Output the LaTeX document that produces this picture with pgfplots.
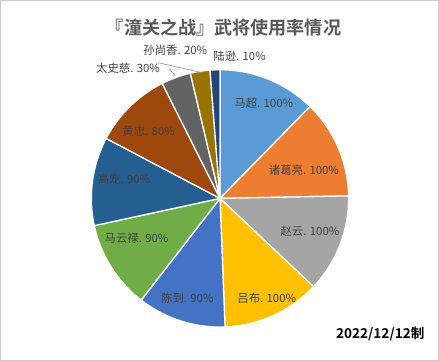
\documentclass[border=0pt]{standalone}
\usepackage{pgfplots}
\pgfplotsset{compat=1.18}
\usepackage{pgfplotstable}
\usepackage{fontspec}
\setmainfont{Noto Sans CJK SC}
\newfontfamily\cjkb{Noto Sans CJK SC Bold}
\definecolor{c1}{HTML}{5B9BD5}
\definecolor{c2}{HTML}{ED7D31}
\definecolor{c3}{HTML}{A5A5A5}
\definecolor{c4}{HTML}{FFC000}
\definecolor{c5}{HTML}{4472C4}
\definecolor{c6}{HTML}{70AD47}
\definecolor{c7}{HTML}{255E91}
\definecolor{c8}{HTML}{9E480E}
\definecolor{c9}{HTML}{636363}
\definecolor{c10}{HTML}{997300}
\definecolor{c11}{HTML}{264478}
\definecolor{lbl}{HTML}{404040}
\definecolor{ttl}{HTML}{595959}
% start (cumulative), value, colour ; total = 810
\newcommand{\slice}[3]{%
  \addplot[fill=#3, draw=white, line width=1.3bp, domain={90-360*(#1+#2)/810}:{90-360*(#1)/810}, samples=60, variable=\t]
    ({219.5+128*cos(\t)},{162+128*sin(\t)}) -- (axis cs:219.5,162) -- cycle;
}
\begin{document}
\begin{tikzpicture}
\begin{axis}[
  scale only axis, width=439bp, height=360bp,
  xmin=0, xmax=439, ymin=0, ymax=360,
  hide axis, clip=false,
]
\draw[color=black!20, line width=0.8bp] (axis cs:1,1) rectangle (axis cs:437,359);
\slice{0}{100}{c1}
\slice{100}{100}{c2}
\slice{200}{100}{c3}
\slice{300}{100}{c4}
\slice{400}{90}{c5}
\slice{490}{90}{c6}
\slice{580}{90}{c7}
\slice{670}{80}{c8}
\slice{750}{30}{c9}
\slice{780}{20}{c10}
\slice{800}{10}{c11}
% leader lines
\draw[color=black!45, line width=0.6bp] (axis cs:169,291) -- (axis cs:175,284);
\draw[color=black!45, line width=0.6bp] (axis cs:158,297) -- (axis cs:202,287);
% title
\node[font=\cjkb\fontsize{18bp}{20bp}\selectfont, text=ttl] at (axis cs:223,332) {『潼关之战』武将使用率情况};
% labels
\begin{scope}[every node/.style={font=\fontsize{11.3bp}{13bp}\selectfont, text=lbl, inner sep=0pt}]
\node at (axis cs:263,257) {马超. 100\%};
\node at (axis cs:303,190) {诸葛亮. 100\%};
\node at (axis cs:309,129) {赵云. 100\%};
\node at (axis cs:266,63) {吕布. 100\%};
\node at (axis cs:187,63) {陈到. 90\%};
\node at (axis cs:136.5,122) {马云禄. 90\%};
\node at (axis cs:124,181) {高宠. 90\%};
\node at (axis cs:148.5,229) {黄忠. 80\%};
\node at (axis cs:128,292) {太史慈. 30\%};
\node at (axis cs:175,309) {孙尚香. 20\%};
\node at (axis cs:239,303) {陆逊. 10\%};
\end{scope}
\node[font=\cjkb\fontsize{13.5bp}{15bp}\selectfont, anchor=east, inner sep=0pt] at (axis cs:423,27) {2022/12/12制};
\end{axis}
\end{tikzpicture}
\end{document}
